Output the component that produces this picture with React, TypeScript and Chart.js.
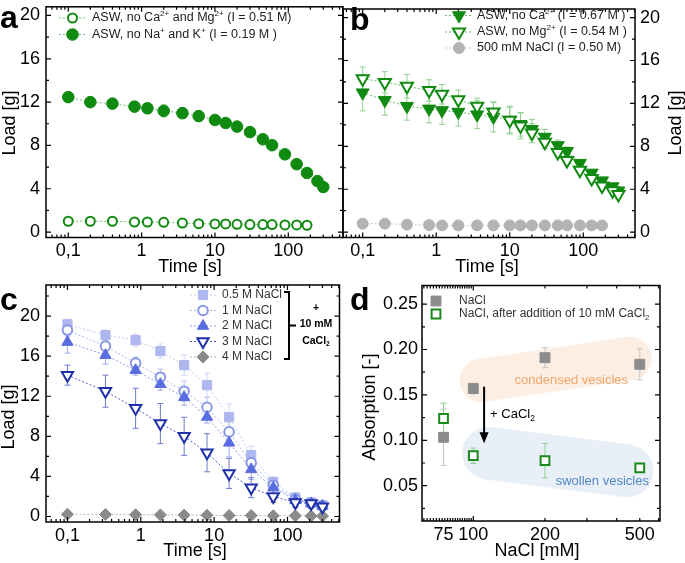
import React, { useEffect, useRef } from 'react';
import { Chart, registerables } from 'chart.js';
import { drawPoint } from 'chart.js/helpers';
Chart.register(...registerables);

const W = 685;
const H = 563;
const FF = '"Liberation Sans", Arial, Helvetica, sans-serif';

// ---------------- data ----------------
// panel a / b times [s]
const timeLong = [0.1, 0.2, 0.4, 0.8, 1.2, 2, 3.6, 6, 10, 14, 20, 30, 45, 60, 90, 130, 180, 250, 300];
const timeShort = [0.1, 0.2, 0.4, 0.8, 1.2, 2, 3.6, 6, 10, 14, 20, 30, 45, 60, 90, 130, 180];

// panel a
const aNoCaMg = [1.0, 1.0, 1.0, 0.93, 0.93, 0.9, 0.84, 0.78, 0.75, 0.75, 0.72, 0.69, 0.69, 0.69, 0.66, 0.66, 0.63];
const aNoNaK = [12.46, 12.0, 11.86, 11.58, 11.43, 11.19, 10.98, 10.71, 10.35, 10.07, 9.74, 9.23, 8.57, 8.02, 7.18, 6.27, 5.46, 4.71, 4.16];
const aNoNaKErr = [0.25, 0.3, 0.35, 0.45, 0.45, 0.55, 0.5, 0.5, 0.35, 0.3, 0.2, 0.2, 0.2, 0.2, 0.2, 0.2, 0.2, 0.2, 0.2];

// panel b
const bNoCa = [13.0, 12.3, 11.74, 11.49, 11.34, 11.19, 10.95, 10.74, 10.45, 10.05, 9.59, 8.87, 8.08, 7.54, 6.43, 5.52, 4.8, 4.25, 3.86];
const bNoCaErr = [1.7, 1.4, 1.3, 1.3, 1.3, 1.3, 1.3, 1.4, 1.3, 1.1, 0.9, 0.7, 0.5, 0.4, 0.3, 0.3, 0.3, 0.3, 0.3];
const bNoMg = [14.3, 13.96, 13.6, 13.2, 12.85, 12.34, 11.74, 11.19, 10.44, 9.9, 9.23, 8.39, 7.42, 6.67, 5.76, 5.0, 4.31, 3.86, 3.5];
const bNoMgErr = [1.1, 1.0, 1.1, 1.0, 0.9, 0.9, 0.75, 0.9, 1.2, 1.2, 0.9, 0.6, 0.4, 0.4, 0.3, 0.3, 0.3, 0.3, 0.3];
const bNaCl = [0.79, 0.79, 0.7, 0.66, 0.63, 0.63, 0.63, 0.63, 0.63, 0.63, 0.63, 0.63, 0.63, 0.63, 0.63, 0.63, 0.63];

// panel c
const timeC = [0.1, 0.33, 0.85, 1.85, 3.9, 8, 16, 32, 64, 128, 210, 300];
const c05 = [19.17, 18.1, 17.6, 16.5, 15.1, 13.1, 9.93, 6.13, 3.44, 1.89, 1.4, 1.1];
const c05Err = [0.5, 0.5, 0.6, 0.7, 1.0, 1.2, 1.3, 0.9, 0.5, 0.5, 0.4, 0.3];
const c1 = [18.6, 17.0, 15.3, 13.9, 12.5, 10.9, 8.44, 5.36, 3.11, 1.72, 1.3, 1.06];
const c1Err = [0.6, 0.6, 0.6, 0.8, 1.0, 1.0, 1.0, 0.8, 0.5, 0.4, 0.3, 0.3];
const c2 = [17.4, 16.1, 14.6, 13.2, 11.9, 9.93, 7.35, 4.7, 2.88, 1.62, 1.3, 1.06];
const c2Err = [1.1, 0.9, 0.5, 0.6, 0.8, 0.6, 1.4, 1.0, 0.6, 0.4, 0.3, 0.3];
const c3 = [14.1, 12.5, 10.8, 9.27, 8.0, 6.36, 4.3, 2.88, 2.0, 1.4, 1.3, 0.96];
const c3Err = [1.0, 1.6, 2.0, 2.0, 1.9, 1.9, 1.5, 1.0, 0.6, 0.5, 0.5, 0.3];
const c4 = [0.22, 0.2, 0.18, 0.16, 0.14, 0.12, 0.1, 0.1, 0.08, 0.07, 0.05, 0.04];

// panel d
const naclConc = [75, 100, 200, 500];
const absNaCl = [0.1033, 0.157, 0.191, 0.1837];
const absNaClErr = [0.031, 0.006, 0.011, 0.017];
const absCaCl = [0.124, 0.083, 0.0775, 0.0695];
const absCaClErr = [0.017, 0.0085, 0.019, 0.005];

// ticks
const timeTicks = [0.1, 1, 10, 100];
const timeMinor = [0.06, 0.07, 0.08, 0.09, 0.2, 0.3, 0.4, 0.5, 0.6, 0.7, 0.8, 0.9, 2, 3, 4, 5, 6, 7, 8, 9, 20, 30, 40, 50, 60, 70, 80, 90, 200, 300, 400, 500];
const loadTicks = [0, 4, 8, 12, 16, 20];
const loadMinor = [2, 6, 10, 14, 18, 22];
const concTicks = [75, 100, 200, 500];
const concMajor = [100];
const concMinor = [62, 64, 66, 68, 70, 72, 74, 76, 78, 80, 82, 84, 86, 88, 90, 92, 94, 96, 98, 200, 300, 400, 500, 600];
const absTicks = [0.05, 0.1, 0.15, 0.2, 0.25];
const absMinor = [0.025, 0.075, 0.125, 0.175, 0.225];

// ---------------- helpers ----------------
type Mk = { style: string; rot?: number; r: number; fill: string; stroke: string; bw: number };

function marker(ctx: CanvasRenderingContext2D, m: Mk, x: number, y: number) {
  ctx.save();
  ctx.fillStyle = m.fill;
  ctx.strokeStyle = m.stroke;
  ctx.lineWidth = m.bw;
  drawPoint(ctx, { pointStyle: m.style, rotation: m.rot || 0, radius: m.r, borderWidth: m.bw } as any, x, y);
  ctx.restore();
}

type Seg = [string, string?];
function rich(ctx: CanvasRenderingContext2D, segs: Seg[], x: number, y: number, size: number, color: string, weight = 'normal', align = 'left') {
  ctx.save();
  ctx.fillStyle = color;
  ctx.textBaseline = 'middle';
  ctx.textAlign = 'left';
  let total = 0;
  for (const [t, k] of segs) {
    ctx.font = `${weight} ${k ? size * 0.65 : size}px ${FF}`;
    total += ctx.measureText(t).width;
  }
  let cx = align === 'center' ? x - total / 2 : x;
  for (const [t, k] of segs) {
    const sz = k ? size * 0.65 : size;
    ctx.font = `${weight} ${sz}px ${FF}`;
    const dy = k === 'sup' ? -size * 0.33 : k === 'sub' ? size * 0.28 : 0;
    ctx.fillText(t, cx, y + dy);
    cx += ctx.measureText(t).width;
  }
  ctx.restore();
}

function vText(ctx: CanvasRenderingContext2D, t: string, x: number, y: number, size: number) {
  ctx.save();
  ctx.translate(x, y);
  ctx.rotate(-Math.PI / 2);
  ctx.font = `${size}px ${FF}`;
  ctx.fillStyle = '#000';
  ctx.textAlign = 'center';
  ctx.textBaseline = 'middle';
  ctx.fillText(t, 0, 0);
  ctx.restore();
}

function hText(ctx: CanvasRenderingContext2D, t: string, x: number, y: number, size: number, color = '#000', weight = 'normal', align: CanvasTextAlign = 'center') {
  ctx.save();
  ctx.font = `${weight} ${size}px ${FF}`;
  ctx.fillStyle = color;
  ctx.textAlign = align;
  ctx.textBaseline = 'middle';
  ctx.fillText(t, x, y);
  ctx.restore();
}

function letter(ctx: CanvasRenderingContext2D, t: string, x: number, y: number) {
  ctx.save();
  ctx.font = `bold 32px ${FF}`;
  ctx.fillStyle = '#000';
  ctx.textAlign = 'left';
  ctx.textBaseline = 'alphabetic';
  ctx.fillText(t, x, y);
  ctx.restore();
}

function legendLine(ctx: CanvasRenderingContext2D, x1: number, x2: number, y: number, color: string) {
  ctx.save();
  ctx.strokeStyle = color;
  ctx.lineWidth = 1;
  ctx.setLineDash([2, 2]);
  ctx.beginPath();
  ctx.moveTo(x1, y);
  ctx.lineTo(x2, y);
  ctx.stroke();
  ctx.restore();
}

function ds(xs: number[], ys: number[], m: Mk, line: string | null) {
  return {
    data: xs.map((x, i) => ({ x, y: ys[i] })),
    showLine: !!line,
    borderColor: line || 'transparent',
    borderWidth: 1,
    borderDash: [2, 2],
    tension: 0,
    pointStyle: m.style,
    pointRotation: m.rot || 0,
    pointRadius: m.r,
    pointHoverRadius: m.r,
    pointBackgroundColor: m.fill,
    pointBorderColor: m.stroke,
    pointBorderWidth: m.bw,
    pointHoverBorderWidth: m.bw,
  };
}

type ErrSpec = { ds: number; err: number[]; color: string };

interface Spec {
  area: { l: number; t: number; r: number; b: number };
  xMin: number; xMax: number; xTicks: number[]; xMajor: number[]; xMinor: number[]; xLabel: (v: number) => string;
  yMin: number; yMax: number; yTicks: number[]; yMinor: number[]; yLabel: (v: number) => string; yPos: 'left' | 'right'; yPad: number;
  datasets: any[];
  errors: ErrSpec[];
  back?: (ctx: CanvasRenderingContext2D, chart: any) => void;
  front: (ctx: CanvasRenderingContext2D, chart: any) => void;
}

const YW = 40; // reserved width for y tick labels
const XH = 28; // reserved height for x tick labels

function buildConfig(p: Spec): any {
  const tickFont = { family: FF, size: 18 };
  const plugins = [
    {
      id: 'back',
      beforeDatasetsDraw(chart: any) {
        if (p.back) p.back(chart.ctx, chart);
        const ctx = chart.ctx;
        const ys = chart.scales.y;
        p.errors.forEach((e) => {
          const meta = chart.getDatasetMeta(e.ds);
          const data = chart.data.datasets[e.ds].data;
          ctx.save();
          ctx.strokeStyle = e.color;
          ctx.lineWidth = 1;
          meta.data.forEach((pt: any, i: number) => {
            const er = e.err[i];
            if (!er) return;
            const v = data[i].y;
            const y1 = ys.getPixelForValue(v + er);
            const y2 = ys.getPixelForValue(v - er);
            const x = pt.x;
            const cap = 3;
            ctx.beginPath();
            ctx.moveTo(x, y1); ctx.lineTo(x, y2);
            ctx.moveTo(x - cap, y1); ctx.lineTo(x + cap, y1);
            ctx.moveTo(x - cap, y2); ctx.lineTo(x + cap, y2);
            ctx.stroke();
          });
          ctx.restore();
        });
      },
    },
    {
      id: 'front',
      afterDraw(chart: any) {
        const ctx = chart.ctx;
        const a = chart.chartArea;
        const xs = chart.scales.x;
        const ys = chart.scales.y;
        ctx.save();
        ctx.strokeStyle = '#000';
        ctx.lineWidth = 1.5;
        ctx.strokeRect(a.left, a.top, a.right - a.left, a.bottom - a.top);
        ctx.lineWidth = 1.2;
        ctx.beginPath();
        const xt = (v: number, len: number) => {
          if (v < p.xMin || v > p.xMax) return;
          const px = xs.getPixelForValue(v);
          ctx.moveTo(px, a.bottom); ctx.lineTo(px, a.bottom - len);
          ctx.moveTo(px, a.top); ctx.lineTo(px, a.top + len);
        };
        const yt = (v: number, len: number) => {
          if (v < p.yMin || v > p.yMax) return;
          const py = ys.getPixelForValue(v);
          ctx.moveTo(a.left, py); ctx.lineTo(a.left + len, py);
          ctx.moveTo(a.right, py); ctx.lineTo(a.right - len, py);
        };
        p.xMajor.forEach((v) => xt(v, 5));
        p.xMinor.forEach((v) => xt(v, 3));
        p.yTicks.forEach((v) => yt(v, 5));
        p.yMinor.forEach((v) => yt(v, 3));
        ctx.stroke();
        ctx.restore();
        p.front(ctx, chart);
      },
    },
  ];
  const padLeft = p.yPos === 'left' ? p.area.l - YW : p.area.l;
  const padRight = p.yPos === 'right' ? W - p.area.r - YW : W - p.area.r;
  return {
    type: 'scatter',
    data: { datasets: p.datasets },
    options: {
      responsive: false,
      animation: false,
      devicePixelRatio: 1,
      events: [],
      layout: { padding: { left: padLeft, top: p.area.t, right: padRight, bottom: H - p.area.b - XH } },
      plugins: { legend: { display: false }, tooltip: { enabled: false } },
      scales: {
        x: {
          type: 'logarithmic',
          position: 'bottom',
          min: p.xMin,
          max: p.xMax,
          grid: { display: false, drawTicks: false },
          border: { display: false },
          ticks: { font: tickFont, color: '#000', padding: 3, autoSkip: false, maxRotation: 0, minRotation: 0, callback: (v: number) => p.xLabel(v) },
          afterBuildTicks: (s: any) => { s.ticks = p.xTicks.map((v) => ({ value: v })); },
          afterFit: (s: any) => { s.height = XH; s.paddingLeft = 0; s.paddingRight = 0; },
        },
        y: {
          type: 'linear',
          position: p.yPos,
          min: p.yMin,
          max: p.yMax,
          grid: { display: false, drawTicks: false },
          border: { display: false },
          ticks: { font: tickFont, color: '#000', padding: p.yPad, autoSkip: false, callback: (v: number) => p.yLabel(v) },
          afterBuildTicks: (s: any) => { s.ticks = p.yTicks.map((v) => ({ value: v })); },
          afterFit: (s: any) => { s.width = YW; s.paddingTop = 0; s.paddingBottom = 0; },
        },
      },
    },
    plugins,
  };
}

const timeLabel = (v: number) => (Math.abs(v - 0.1) < 1e-9 ? '0,1' : String(Math.round(v)));
const intLabel = (v: number) => String(Math.round(v));

// colours
const GREEN = '#118a11';
const GREEN_LINE = '#6cbf6c';
const GREEN_ERR = '#8fcf8f';
const GREY_B = '#b3b3b3';
const TITLE = 18;

// ---------------- panels ----------------
function makeA(): Spec {
  const mOpen: Mk = { style: 'circle', r: 4.5, fill: '#fff', stroke: GREEN, bw: 2 };
  const mFill: Mk = { style: 'circle', r: 5.8, fill: GREEN, stroke: GREEN, bw: 1 };
  return {
    area: { l: 46, t: 2, r: 343, b: 237.5 },
    xMin: 0.0497, xMax: 557, xTicks: timeTicks, xMajor: timeTicks, xMinor: timeMinor, xLabel: timeLabel,
    yMin: -0.5, yMax: 20.8, yTicks: loadTicks, yMinor: loadMinor, yLabel: intLabel, yPos: 'left', yPad: 6,
    datasets: [ds(timeShort, aNoCaMg, mOpen, GREEN_LINE), ds(timeLong, aNoNaK, mFill, GREEN_LINE)],
    errors: [{ ds: 1, err: aNoNaKErr, color: GREEN_ERR }],
    front: (ctx) => {
      letter(ctx, 'a', 0, 28);
      vText(ctx, 'Load [g]', 10, 123, TITLE);
      hText(ctx, 'Time [s]', 190, 267, TITLE);
      legendLine(ctx, 59, 86, 18, GREEN_LINE);
      marker(ctx, mOpen, 72.5, 18);
      rich(ctx, [['ASW, no Ca'], ['2+', 'sup'], [' and Mg'], ['2+', 'sup'], [' (I = 0.51 M)']], 92, 18, 12.5, '#222');
      legendLine(ctx, 59, 86, 34.5, GREEN_LINE);
      marker(ctx, mFill, 72.5, 34.5);
      rich(ctx, [['ASW, no Na'], ['+', 'sup'], [' and K'], ['+', 'sup'], [' (I = 0.19 M )']], 92, 34.5, 12.5, '#222');
    },
  };
}

function makeB(): Spec {
  const mDown: Mk = { style: 'triangle', rot: 180, r: 7.5, fill: GREEN, stroke: GREEN, bw: 1 };
  const mDownOpen: Mk = { style: 'triangle', rot: 180, r: 7, fill: '#fff', stroke: GREEN, bw: 2 };
  const mGrey: Mk = { style: 'circle', r: 5.5, fill: GREY_B, stroke: GREY_B, bw: 1 };
  return {
    area: { l: 343, t: 2, r: 635, b: 237.5 },
    xMin: 0.054, xMax: 505, xTicks: timeTicks, xMajor: timeTicks, xMinor: timeMinor, xLabel: timeLabel,
    yMin: -0.5, yMax: 20.8, yTicks: loadTicks, yMinor: loadMinor, yLabel: intLabel, yPos: 'right', yPad: 5,
    datasets: [
      ds(timeLong, bNoMg, mDownOpen, GREEN_LINE),
      ds(timeLong, bNoCa, mDown, GREEN_LINE),
      ds(timeShort, bNaCl, mGrey, '#c8c8c8'),
    ],
    errors: [
      { ds: 1, err: bNoCaErr, color: GREEN_ERR },
      { ds: 0, err: bNoMgErr, color: GREEN_ERR },
    ],
    front: (ctx) => {
      letter(ctx, 'b', 350, 30);
      vText(ctx, 'Load [g]', 676, 123, TITLE);
      hText(ctx, 'Time [s]', 487, 267, TITLE);
      legendLine(ctx, 445, 473, 15.5, GREEN_LINE);
      marker(ctx, mDown, 459, 15.5);
      rich(ctx, [['ASW, no Ca'], ['2+', 'sup'], [' (I = 0.67 M )']], 477, 15.5, 12.5, '#222');
      legendLine(ctx, 445, 473, 32, GREEN_LINE);
      marker(ctx, mDownOpen, 459, 32);
      rich(ctx, [['ASW, no Mg'], ['2+', 'sup'], [' (I = 0.54 M )']], 477, 32, 12.5, '#222');
      legendLine(ctx, 445, 473, 48, '#c8c8c8');
      marker(ctx, mGrey, 459, 48);
      rich(ctx, [['500 mM NaCl (I = 0.50 M)']], 477, 48, 12.5, '#222');
    },
  };
}

function makeC(): Spec {
  const m05: Mk = { style: 'rect', r: 6.5, fill: '#aeb7ef', stroke: '#aeb7ef', bw: 1 };
  const m1: Mk = { style: 'circle', r: 4.8, fill: '#fff', stroke: '#8896e6', bw: 2 };
  const m2: Mk = { style: 'triangle', r: 6.5, fill: '#5a6de0', stroke: '#5a6de0', bw: 1 };
  const m3: Mk = { style: 'triangle', rot: 180, r: 6.5, fill: '#fff', stroke: '#1f30a8', bw: 2 };
  const m4: Mk = { style: 'rectRot', r: 6, fill: '#8a8a8a', stroke: '#8a8a8a', bw: 1 };
  const l05 = '#c3caf3', l1 = '#aab4ee', l2 = '#8d9ae8', l3 = '#4d5cbf', l4 = '#b5b5b5';
  return {
    area: { l: 46, t: 285, r: 339.5, b: 522 },
    xMin: 0.051, xMax: 512, xTicks: timeTicks, xMajor: timeTicks, xMinor: timeMinor, xLabel: timeLabel,
    yMin: -0.55, yMax: 23.1, yTicks: loadTicks, yMinor: loadMinor, yLabel: intLabel, yPos: 'left', yPad: 6,
    datasets: [
      ds(timeC, c3, m3, l3),
      ds(timeC, c2, m2, l2),
      ds(timeC, c1, m1, l1),
      ds(timeC, c05, m05, l05),
      ds(timeC, c4, m4, l4),
    ],
    errors: [
      { ds: 3, err: c05Err, color: '#cfd4f5' },
      { ds: 2, err: c1Err, color: '#b9c1f1' },
      { ds: 1, err: c2Err, color: '#a0abeb' },
      { ds: 0, err: c3Err, color: '#6f7cc9' },
    ],
    front: (ctx) => {
      letter(ctx, 'c', 0, 310);
      vText(ctx, 'Load [g]', 9, 417, TITLE);
      hText(ctx, 'Time [s]', 195, 551, TITLE);
      const rows: [Mk, string, string][] = [
        [m05, l05, '0.5 M NaCl'],
        [m1, l1, '1 M NaCl'],
        [m2, l2, '2 M NaCl'],
        [m3, l3, '3 M NaCl'],
        [m4, l4, '4 M NaCl'],
      ];
      rows.forEach(([m, l, t], i) => {
        const y = 295 + i * 15.5;
        legendLine(ctx, 190, 216, y, l);
        marker(ctx, m, 203, y);
        hText(ctx, t, 222, y, 12, '#333', 'normal', 'left');
      });
      ctx.save();
      ctx.strokeStyle = '#000';
      ctx.lineWidth = 2;
      ctx.beginPath();
      ctx.moveTo(284, 292); ctx.lineTo(289, 292); ctx.lineTo(289, 359); ctx.lineTo(284, 359);
      ctx.moveTo(289, 325.5); ctx.lineTo(296, 325.5);
      ctx.stroke();
      ctx.restore();
      hText(ctx, '+', 316, 308, 10.5, '#000', 'bold');
      hText(ctx, '10 mM', 316, 324.5, 10.5, '#000', 'bold');
      rich(ctx, [['CaCl'], ['2', 'sub']], 316, 341, 10.5, '#000', 'bold', 'center');
    },
  };
}

function makeD(): Spec {
  const mGrey: Mk = { style: 'rect', r: 7, fill: '#8c8c8c', stroke: '#8c8c8c', bw: 1 };
  const mGreen: Mk = { style: 'rect', r: 6.2, fill: '#fff', stroke: '#1a8a1a', bw: 2 };
  return {
    area: { l: 422, t: 285.5, r: 660, b: 521 },
    xMin: 60.9, xMax: 608, xTicks: concTicks, xMajor: concMajor, xMinor: concMinor, xLabel: intLabel,
    yMin: 0.0111, yMax: 0.2705, yTicks: absTicks, yMinor: absMinor, yLabel: (v) => v.toFixed(2), yPos: 'left', yPad: 4,
    datasets: [ds(naclConc, absCaCl, mGreen, null), ds(naclConc, absNaCl, mGrey, null)],
    errors: [
      { ds: 1, err: absNaClErr, color: '#c4c4c4' },
      { ds: 0, err: absCaClErr, color: '#8fcf8f' },
    ],
    back: (ctx, chart) => {
      const xs = chart.scales.x, ys = chart.scales.y;
      const band = (x1: number, y1: number, x2: number, y2: number, r: number, c: string) => {
        ctx.save();
        ctx.strokeStyle = c;
        ctx.lineWidth = 2 * r;
        ctx.lineCap = 'round';
        ctx.beginPath();
        ctx.moveTo(xs.getPixelForValue(x1), ys.getPixelForValue(y1));
        ctx.lineTo(xs.getPixelForValue(x2), ys.getPixelForValue(y2));
        ctx.stroke();
        ctx.restore();
      };
      band(108, 0.166, 455, 0.19, 21.7, '#fdeee3');
      band(116, 0.0857, 441, 0.0665, 26.5, '#e9eff6');
      hText(ctx, 'condensed vesicles', xs.getPixelForValue(258), ys.getPixelForValue(0.166), 13, '#f2a66a');
      hText(ctx, 'swollen vesicles', xs.getPixelForValue(348), ys.getPixelForValue(0.055), 13, '#5187c8');
      // arrow
      const ax = xs.getPixelForValue(111);
      const ay1 = ys.getPixelForValue(0.159);
      const ay2 = ys.getPixelForValue(0.0967);
      ctx.save();
      ctx.strokeStyle = '#000';
      ctx.fillStyle = '#000';
      ctx.lineWidth = 2;
      ctx.beginPath();
      ctx.moveTo(ax, ay1); ctx.lineTo(ax, ay2 - 9);
      ctx.stroke();
      ctx.beginPath();
      ctx.moveTo(ax - 4.5, ay2 - 11); ctx.lineTo(ax + 4.5, ay2 - 11); ctx.lineTo(ax, ay2);
      ctx.closePath();
      ctx.fill();
      ctx.restore();
      rich(ctx, [['+ CaCl'], ['2', 'sub']], ax + 6, ys.getPixelForValue(0.128), 13, '#000');
    },
    front: (ctx) => {
      letter(ctx, 'd', 350, 310);
      vText(ctx, 'Absorption [-]', 370, 407, TITLE);
      hText(ctx, 'NaCl [mM]', 537, 551, TITLE);
      marker(ctx, mGrey, 436, 301);
      hText(ctx, 'NaCl', 459, 301, 12, '#333', 'normal', 'left');
      marker(ctx, mGreen, 436, 314);
      rich(ctx, [['NaCl, after addition of 10 mM CaCl'], ['2', 'sub']], 459, 314, 12, '#333');
    },
  };
}

function Panel({ make }: { make: () => Spec }) {
  const ref = useRef<HTMLCanvasElement>(null);
  useEffect(() => {
    const chart = new Chart(ref.current as HTMLCanvasElement, buildConfig(make()));
    return () => chart.destroy();
  }, []);
  return (
    <canvas
      ref={ref}
      width={W}
      height={H}
      style={{ position: 'absolute', left: 0, top: 0, width: W, height: H }}
    />
  );
}

export default function App() {
  return (
    <div style={{ position: 'absolute', left: 0, top: 0, width: W, height: H, background: '#fff', overflow: 'hidden' }}>
      <Panel make={makeA} />
      <Panel make={makeB} />
      <Panel make={makeC} />
      <Panel make={makeD} />
    </div>
  );
}
